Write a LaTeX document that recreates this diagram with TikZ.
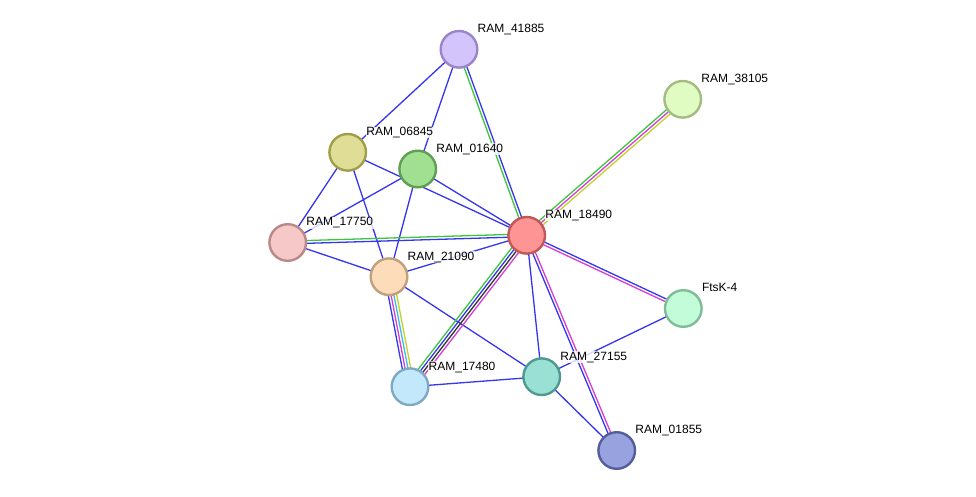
\documentclass[tikz,border=0pt]{standalone}
\usepackage{fontspec}
\setmainfont{Liberation Sans}
\usetikzlibrary{calc,backgrounds}
\definecolor{eblue}{HTML}{3535F0}
\definecolor{egreen}{HTML}{3CC63C}
\definecolor{emag}{HTML}{D63CD6}
\definecolor{ecyan}{HTML}{3CBCE0}
\definecolor{eyel}{HTML}{C2D22A}
\definecolor{eblack}{HTML}{333333}
\newcommand{\pline}[4]{\draw[edge,#4] ($(#1)!#3!90:(#2)$) -- ($(#2)!#3!-90:(#1)$);}
\begin{document}
\begin{tikzpicture}[x=1pt,y=-1pt,
  prot/.style={circle,inner sep=0pt,minimum size=36.6pt,line width=2.4pt},
  lbl/.style={anchor=base west,font=\fontsize{12}{14}\selectfont,fill=white,fill opacity=0.8,text opacity=1,inner sep=0.5pt},
  edge/.style={line width=1.3pt}]
\useasboundingbox (0,0) rectangle (976,496);
% nodes
\node[prot,fill={rgb,255:red,211;green,197;blue,252},draw={rgb,255:red,154;green,133;blue,201}] (n41885) at (459,49.3) {};
\node[prot,fill={rgb,255:red,224;green,252;blue,195},draw={rgb,255:red,164;green,188;blue,130}] (n38105) at (682.7,99.3) {};
\node[prot,fill={rgb,255:red,224;green,221;blue,151},draw={rgb,255:red,160;green,158;blue,74}] (n06845) at (347.7,152.3) {};
\node[prot,fill={rgb,255:red,160;green,224;blue,144},draw={rgb,255:red,94;green,159;blue,85}] (n01640) at (417.7,169) {};
\node[prot,fill={rgb,255:red,255;green,148;blue,148},draw={rgb,255:red,192;green,88;blue,88}] (n18490) at (526.7,235.3) {};
\node[prot,fill={rgb,255:red,246;green,200;blue,200},draw={rgb,255:red,185;green,136;blue,136}] (n17750) at (287.7,242.5) {};
\node[prot,fill={rgb,255:red,253;green,220;blue,186},draw={rgb,255:red,192;green,160;blue,126}] (n21090) at (389,276.7) {};
\node[prot,fill={rgb,255:red,195;green,252;blue,217},draw={rgb,255:red,127;green,189;blue,151}] (nftsk) at (683.3,308.5) {};
\node[prot,fill={rgb,255:red,155;green,224;blue,213},draw={rgb,255:red,78;green,154;blue,143}] (n27155) at (541.7,376.7) {};
\node[prot,fill={rgb,255:red,195;green,232;blue,252},draw={rgb,255:red,126;green,169;blue,195}] (n17480) at (410,386.7) {};
\node[prot,fill={rgb,255:red,152;green,162;blue,223},draw={rgb,255:red,85;green,94;blue,154}] (n01855) at (616.7,450.5) {};
% edges
\begin{scope}[on background layer]
\pline{n41885}{n06845}{0pt}{eblue}
\pline{n41885}{n01640}{0pt}{eblue}
\pline{n41885}{n18490}{-1.4pt}{egreen}
\pline{n41885}{n18490}{1.4pt}{eblue}
\pline{n18490}{n38105}{2.8pt}{egreen}
\pline{n18490}{n38105}{0pt}{emag}
\pline{n18490}{n38105}{-2.8pt}{eyel}
\pline{n06845}{n18490}{0pt}{eblue}
\pline{n06845}{n17750}{0pt}{eblue}
\pline{n06845}{n21090}{0pt}{eblue}
\pline{n01640}{n17750}{0pt}{eblue}
\pline{n01640}{n21090}{0pt}{eblue}
\pline{n01640}{n18490}{0pt}{eblue}
\pline{n17750}{n18490}{1.4pt}{egreen}
\pline{n17750}{n18490}{-1.4pt}{eblue}
\pline{n17750}{n21090}{0pt}{eblue}
\pline{n21090}{n18490}{0pt}{eblue}
\pline{n21090}{n17480}{-4.2pt}{eblue}
\pline{n21090}{n17480}{-1.4pt}{emag}
\pline{n21090}{n17480}{1.4pt}{ecyan}
\pline{n21090}{n17480}{4.2pt}{eyel}
\pline{n21090}{n27155}{0pt}{eblue}
\pline{n18490}{n17480}{-4.2pt}{egreen}
\pline{n18490}{n17480}{-1.4pt}{eblue}
\pline{n18490}{n17480}{1.4pt}{eblack}
\pline{n18490}{n17480}{4.2pt}{emag}
\pline{n18490}{n27155}{0pt}{eblue}
\pline{n18490}{nftsk}{1.4pt}{eblue}
\pline{n18490}{nftsk}{-1.4pt}{emag}
\pline{n18490}{n01855}{-1.4pt}{eblue}
\pline{n18490}{n01855}{1.4pt}{emag}
\pline{nftsk}{n27155}{0pt}{eblue}
\pline{n27155}{n17480}{0pt}{eblue}
\pline{n27155}{n01855}{0pt}{eblue}
\end{scope}
% labels
\node[lbl] (l41885) at ($(n41885)+(18,-16.7)$) {RAM\_41885};
\node[lbl] (l38105) at ($(n38105)+(18,-16.7)$) {RAM\_38105};
\node[lbl] (l06845) at ($(n06845)+(18,-16.7)$) {RAM\_06845};
\node[lbl] (l01640) at ($(n01640)+(18,-16.7)$) {RAM\_01640};
\node[lbl] (l18490) at ($(n18490)+(18,-16.7)$) {RAM\_18490};
\node[lbl] (l17750) at ($(n17750)+(18,-16.7)$) {RAM\_17750};
\node[lbl] (l21090) at ($(n21090)+(18,-16.7)$) {RAM\_21090};
\node[lbl] (lftsk) at ($(nftsk)+(18,-16.7)$) {FtsK-4};
\node[lbl] (l27155) at ($(n27155)+(18,-16.7)$) {RAM\_27155};
\node[lbl] (l17480) at ($(n17480)+(18,-16.7)$) {RAM\_17480};
\node[lbl] (l01855) at ($(n01855)+(18,-16.7)$) {RAM\_01855};
\end{tikzpicture}
\end{document}
